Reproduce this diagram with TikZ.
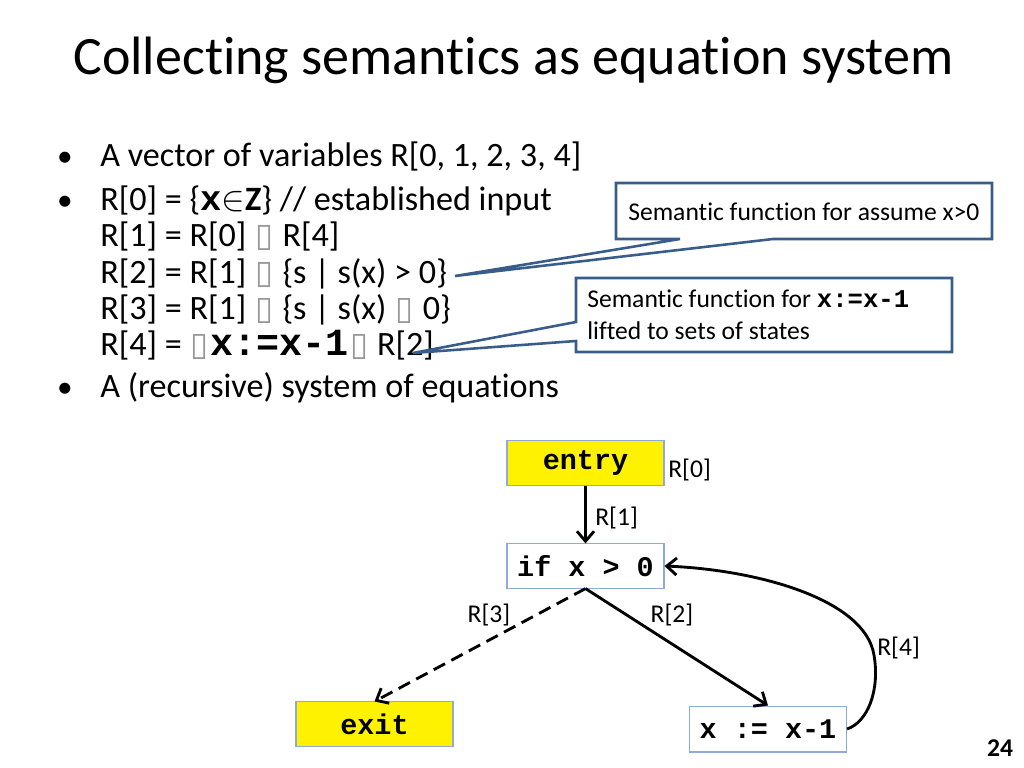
\documentclass[tikz,border=0pt]{standalone}
\usepackage{fontspec}
\setmainfont{Carlito}[Ligatures={NoCommon,NoContextual},RawFeature={-liga;-clig;-dlig}]
\newfontfamily\cour{Liberation Mono}
\newfontfamily\dejavu{DejaVu Sans}
\usetikzlibrary{arrows.meta}
\definecolor{calloutc}{HTML}{385D8A}
\definecolor{nodeborder}{HTML}{8EAADB}
\newcommand\cb[1]{{\cour\bfseries #1}}
\newcommand\nog{{\dejavu\color{black!40}\fontsize{23pt}{23pt}\selectfont\kern1pt▯\kern1pt}}
\begin{document}
\begin{tikzpicture}[x=0.703125pt,y=-0.703125pt,
  txt/.style={inner sep=0pt, anchor=base west, font=\fontsize{24pt}{28pt}\selectfont},
  bul/.style={inner sep=0pt, anchor=base, font=\fontsize{22pt}{28pt}\selectfont},
  ctxt/.style={inner sep=0pt, anchor=base west, font=\fontsize{18pt}{21pt}\selectfont},
  lbl/.style={inner sep=0pt, font=\fontsize{18pt}{21pt}\selectfont},
  block/.style={draw=nodeborder, line width=0.75pt, minimum width=110.4pt, minimum height=31pt, inner sep=0pt, font=\cour\bfseries\fontsize{20pt}{24pt}\selectfont},
  flow/.style={line width=2pt, -{Straight Barb[length=7pt,width=12pt]}},
  callout/.style={draw=calloutc, fill=white, line width=1.8pt}]
\useasboundingbox[fill=white] (0,0) rectangle (1024,768);

% title
\node[anchor=base west, inner sep=0pt, font=\fontsize{38pt}{44pt}\selectfont] (title) at (73,75) {Collecting semantics as equation system};

% bullets
\node[bul] (b1) at (65,167) {•};
\node[bul] (b2) at (65,211) {•};
\node[bul] (b3) at (65,397) {•};
\node[txt] (t1) at (100,167) {A vector of variables R[0, 1, 2, 3, 4]};
\node[txt] (t2) at (100,211) {R[0] = \{{\fontsize{25pt}{28pt}\selectfont\cb{x}}$\in$\textbf{Z}\} // established input};
\node[txt] (t3) at (100,247) {R[1] = R[0] \nog{} R[4]};
\node[txt] (t4) at (100,283) {R[2] = R[1] \nog{} \{s | s(x) > 0\}};
\node[txt] (t5) at (100,319) {R[3] = R[1] \nog{} \{s | s(x) \nog{} 0\}};
\node[txt] (t6) at (100,355) {R[4] = \nog{\fontsize{27pt}{28pt}\selectfont\cb{x:=x-1}}\nog{} R[2]};
\node[txt] (t7) at (100,397) {A (recursive) system of equations};

% callouts
\path[callout] (616,183) -- (992,183) -- (992,239) -- (773,239) -- (455,276) -- (680,239) -- (616,239) -- cycle;
\node[ctxt] (c1) at (628,221) {Semantic function for assume x>0};
\path[callout] (576,278) -- (952,278) -- (952,352) -- (576,352) -- (576,341) -- (413,353) -- (576,322) -- cycle;
\node[ctxt] (c2a) at (587,308) {Semantic function for \cb{x:=x-1}};
\node[ctxt] (c2b) at (587,340) {lifted to sets of states};

% diagram
\node[block, fill=yellow] (entry) at (585.5,463) {entry};
\node[block, fill=white] (if) at (585.5,566) {if x > 0};
\node[block, fill=yellow] (exit) at (374.5,724) {exit};
\node[block, fill=white, minimum height=32.3pt] (assign) at (768,729) {x := x-1};

\draw[flow] (entry) -- (if);
\draw[flow, dash pattern=on 9pt off 5pt] (if.south) -- (exit.north);
\draw[flow] (if.south) -- (assign.north);
\coordinate (bend) at (874,655);
\draw[flow] (assign.east) .. controls (868,722) and (880,690) .. (bend) .. controls (865,600) and (760,570) .. (if.east);

\node[lbl, anchor=west] (l0) at (668,470) {R[0]};
\node[lbl, anchor=west] (l1) at (595,518) {R[1]};
\node[lbl] (l3) at (489,615) {R[3]};
\node[lbl] (l2) at (672,615) {R[2]};
\node[lbl, anchor=west] (l4) at (877,648) {R[4]};

\node[inner sep=0pt, font=\bfseries\fontsize{18pt}{20pt}\selectfont] (pg) at (1000,748) {24};
\end{tikzpicture}
\end{document}
